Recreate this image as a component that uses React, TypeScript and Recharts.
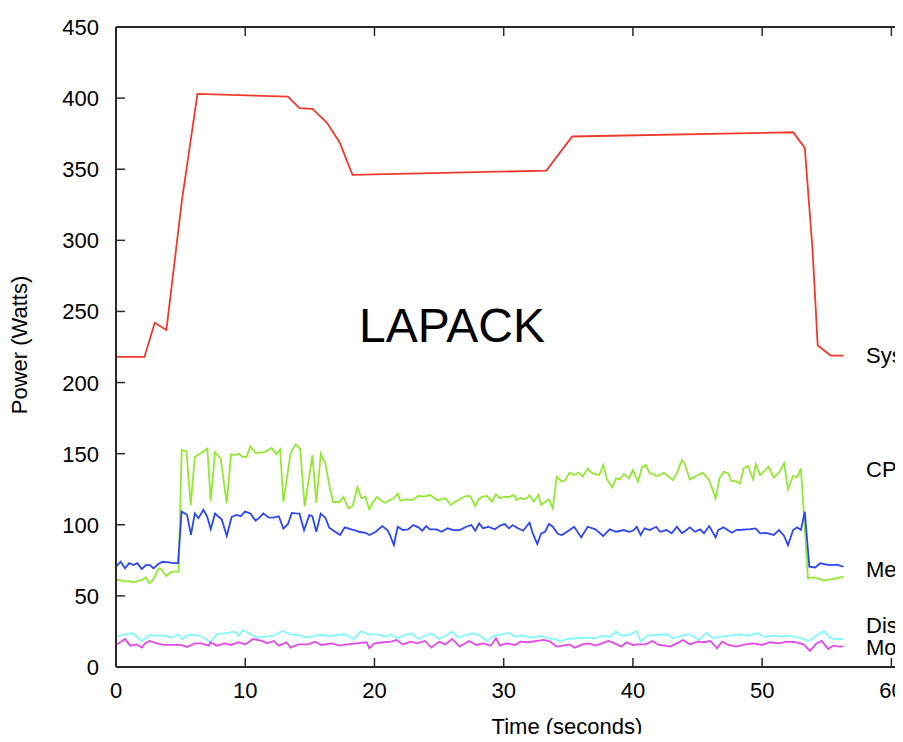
import React from "react";
import { LineChart, Line, XAxis, YAxis, Customized } from "recharts";

const TIME_TICKS = [0, 10, 20, 30, 40, 50, 60];
const POWER_TICKS = [0, 50, 100, 150, 200, 250, 300, 350, 400, 450];

const SERIES_NAMES = ["System", "CPU", "Memory", "Disk", "Motherboard"];
const CHART_TITLE = "LAPACK";
const X_TITLE = "Time (seconds)";
const Y_TITLE = "Power (Watts)";

// [time (s), power (W)]
const SYSTEM: [number, number][] = [
  [0, 218], [2.2, 218], [3.0, 242], [3.9, 237], [5.1, 328], [6.3, 403], [13.3, 401],
  [14.2, 393], [15.2, 392.5], [16.3, 383], [17.3, 369], [18.3, 346], [33.3, 349],
  [35.3, 373], [52.4, 376], [53.3, 365], [53.9, 293], [54.3, 226], [55.3, 219], [56.3, 219],
];

const CPU: [number, number][] = [
  [0, 61.2], [0.35, 61], [0.7, 60], [1.0, 60.5], [1.35, 59.5], [1.7, 60.5], [2.0, 61], [2.3, 63],
  [2.58, 58.8], [2.9, 61.7], [3.3, 69.4], [3.5, 68.7], [3.9, 64], [4.3, 67], [4.7, 67], [4.85, 67],
  [5.08, 152.6], [5.45, 151.6], [5.78, 113.7], [6.1, 147.7], [6.6, 150.5], [7.07, 153.5],
  [7.33, 116.7], [7.66, 151], [8.1, 146.5], [8.57, 115], [8.9, 149.5], [9.2, 149], [9.5, 150],
  [9.8, 147.7], [10.1, 147.7], [10.4, 155], [10.8, 150.5], [11.1, 150.5], [11.4, 151], [11.7, 152],
  [12.05, 154], [12.4, 149.5], [12.7, 152.8], [12.95, 116], [13.5, 150], [13.9, 156.5],
  [14.25, 153.5], [14.6, 113], [15.2, 149], [15.5, 115.3], [15.85, 150], [16.2, 143], [16.5, 128],
  [16.8, 116], [17.08, 116.2], [17.3, 116], [17.6, 119.7], [17.98, 111.5], [18.32, 113.2],
  [18.68, 126.3], [19.0, 118.6], [19.3, 119.7], [19.6, 110.8], [19.9, 116], [20.2, 119.7],
  [20.5, 117], [20.8, 115.5], [21.1, 117], [21.5, 118.6], [21.8, 122], [22.0, 117], [22.5, 117.9],
  [22.9, 117.4], [23.2, 119], [23.4, 120.4], [23.7, 120], [24.0, 120.2], [24.3, 120.9], [24.6, 119],
  [24.9, 117], [25.2, 118], [25.5, 118.6], [25.9, 113.9], [26.2, 116], [26.5, 117.4], [26.8, 119],
  [27.1, 120.2], [27.4, 120.2], [27.8, 113.2], [28.0, 117], [28.3, 119.7], [28.7, 120.2],
  [29.1, 116.2], [29.4, 121.4], [29.7, 118.6], [30.1, 119.7], [30.4, 119.5], [30.8, 120.9],
  [31.0, 117.4], [31.3, 119], [31.55, 118], [31.8, 118.6], [32.0, 120.9], [32.3, 116.2],
  [32.7, 120.9], [32.9, 113.9], [33.2, 116], [33.5, 117.9], [33.8, 111.5], [34.1, 133.8],
  [34.5, 130.3], [34.75, 131.4], [35.1, 136.6], [35.45, 135], [35.8, 136.6], [36.1, 133.8],
  [36.5, 139.6], [36.75, 137], [37.0, 135.7], [37.4, 135], [37.7, 142], [38.0, 131.9],
  [38.4, 126.3], [38.7, 132.6], [39.0, 131.9], [39.3, 135.7], [39.7, 132.6], [40.0, 138.5],
  [40.4, 130.3], [40.7, 140.4], [41.0, 142], [41.3, 136.1], [41.55, 136], [41.8, 134.3],
  [42.1, 135], [42.4, 136.6], [42.75, 134], [43.1, 131.4], [43.4, 136.1], [43.8, 145.5],
  [44.0, 143.2], [44.4, 131.9], [44.9, 134.3], [45.4, 136.6], [45.9, 131.4], [46.4, 118.6],
  [46.7, 132.6], [47.05, 137.3], [47.4, 136], [47.6, 131], [48.0, 130.5], [48.3, 129.1],
  [48.55, 139.6], [48.9, 141.3], [49.3, 131.9], [49.5, 142.7], [49.85, 135], [50.2, 138],
  [50.5, 140.8], [50.9, 133.3], [51.3, 136.6], [51.7, 143.2], [52.0, 124.9], [52.4, 134.3],
  [52.7, 133.3], [53.0, 139.6], [53.55, 62.3], [54.0, 63], [54.4, 62], [54.8, 60.7], [55.3, 61.6],
  [55.8, 62.5], [56.3, 63.5],
];

const MEMORY: [number, number][] = [
  [0, 70.5], [0.36, 74], [0.7, 69.4], [1.03, 73], [1.35, 71.7], [1.65, 73], [2.0, 68.8], [2.3, 71.7],
  [2.63, 71.7], [2.9, 69.4], [3.27, 72.4], [3.6, 74], [3.9, 73.8], [4.2, 73.4], [4.5, 73], [4.8, 73],
  [5.08, 109.3], [5.5, 107], [5.8, 92.9], [6.1, 108], [6.38, 104.6], [6.76, 110.5], [7.05, 106],
  [7.33, 96.9], [7.66, 108], [7.9, 106], [8.18, 103.9], [8.57, 92.1], [8.95, 105.5], [9.34, 106.9],
  [9.65, 106], [9.98, 109.3], [10.4, 108], [10.8, 102.9], [11.1, 105], [11.4, 108], [11.8, 105.2],
  [12.2, 105], [12.6, 106], [12.95, 97.3], [13.3, 100.4], [13.6, 108.3], [13.9, 108], [14.2, 107.8],
  [14.55, 96.1], [14.96, 106.7], [15.2, 106], [15.5, 95], [15.84, 107.8], [16.2, 105], [16.5, 98],
  [16.95, 95.1], [17.34, 92.8], [17.7, 98.2], [18.2, 96.8], [18.5, 96], [18.8, 95.1], [19.3, 94.4],
  [19.6, 92.8], [20.1, 95.1], [20.6, 99.1], [21.0, 96.3], [21.2, 92.8], [21.5, 85.7], [21.8, 98.6],
  [22.2, 96.3], [22.6, 96.8], [23.0, 99.8], [23.4, 98.2], [23.7, 95.8], [24.0, 99.1], [24.3, 96.8],
  [24.8, 96.8], [25.2, 95.1], [25.65, 97.5], [26.1, 96.3], [26.6, 96.3], [27.1, 98.6], [27.5, 99.8],
  [27.8, 95.8], [28.1, 101], [28.4, 97.5], [28.8, 98.6], [29.3, 96.8], [29.8, 99.8], [30.1, 100.5],
  [30.4, 97.5], [30.7, 99.8], [31.1, 97.5], [31.5, 95.8], [32.0, 101.5], [32.25, 94], [32.6, 86.4],
  [32.9, 94], [33.2, 95.1], [33.5, 100.5], [33.8, 98.6], [34.2, 93.5], [34.5, 92.8], [34.9, 95.1],
  [35.1, 96.3], [35.45, 98.6], [36.0, 91.1], [36.5, 98.6], [37.1, 96.8], [37.7, 92.1], [38.2, 96.8],
  [38.7, 95.1], [39.3, 96.3], [39.7, 95.1], [40.0, 95.8], [40.3, 98.6], [40.6, 92.8], [40.9, 97.5],
  [41.3, 96.3], [41.8, 98.6], [42.1, 95.1], [42.6, 96.3], [43.0, 94], [43.4, 98.6], [43.8, 94],
  [44.1, 96], [44.4, 98.2], [44.8, 95.1], [45.2, 96.8], [45.5, 94], [45.9, 99.1], [46.4, 91.1],
  [46.6, 96.3], [47.0, 98.2], [47.3, 96.5], [47.65, 94.4], [48.0, 96.3], [48.4, 96.5], [48.8, 96.8],
  [49.1, 97], [49.5, 97.5], [49.85, 94], [50.2, 94.2], [50.5, 94], [50.9, 92.8], [51.3, 96.3],
  [51.7, 92.1], [52.0, 85.7], [52.4, 96.3], [52.7, 98.2], [53.0, 96.3], [53.3, 109.2], [53.65, 70.5],
  [54.1, 70], [54.5, 72.9], [55.0, 72], [55.3, 71.7], [55.8, 72], [56.3, 70.5],
];

const DISK: [number, number][] = [
  [0, 21.3], [0.7, 23], [1.3, 23.7], [2.0, 18.3], [2.6, 22.5], [3.15, 22], [3.8, 22], [4.3, 20.6],
  [4.8, 23], [5.1, 19.7], [5.6, 22.5], [6.2, 22.5], [6.8, 20.6], [7.3, 17.4], [7.8, 23], [8.4, 23.7],
  [9.2, 24.8], [9.5, 22], [9.8, 26], [10.4, 23], [10.9, 20.6], [11.5, 21.3], [12.2, 22], [12.9, 25.3],
  [13.5, 23], [14.1, 22.5], [14.8, 20.6], [15.4, 22], [16.0, 22.5], [16.5, 21.5], [17.1, 22.5],
  [17.7, 23], [18.4, 19.7], [19.0, 25.3], [19.5, 23], [20.2, 23], [20.9, 21.3], [21.3, 23],
  [21.7, 20.2], [22.2, 22], [22.9, 23.7], [23.4, 19.7], [23.9, 22], [24.4, 23.7], [25.0, 19.7],
  [25.5, 22], [26.0, 24.8], [26.5, 20.6], [27.1, 22.5], [27.7, 23.7], [28.2, 22], [28.7, 18.3],
  [29.3, 22], [29.9, 23], [30.4, 24.1], [30.9, 21.3], [31.5, 22], [32.2, 20.6], [32.8, 22],
  [33.4, 20.2], [33.98, 19.7], [34.4, 17.8], [34.9, 19.7], [35.65, 20.2], [36.3, 20.6], [37.1, 20.2],
  [37.7, 22], [38.2, 21.3], [38.7, 24.8], [39.1, 22], [39.8, 23], [40.3, 25.3], [40.6, 17.8],
  [41.1, 22], [41.8, 22.5], [42.6, 23], [43.1, 20.2], [43.8, 22], [44.4, 23], [45.1, 19],
  [45.7, 24.1], [46.2, 20.2], [46.8, 21.3], [47.5, 22], [48.3, 23], [48.9, 22], [49.6, 23.7],
  [50.2, 21.3], [50.9, 22], [51.5, 21.3], [52.1, 22], [52.8, 20.6], [53.2, 19.7], [53.6, 18.3],
  [54.2, 22], [54.8, 25.3], [55.3, 20.2], [55.8, 19.7], [56.3, 19.5],
];

const MOTHERBOARD: [number, number][] = [
  [0, 15.5], [0.7, 19.7], [1.1, 15], [1.6, 15.9], [2.0, 13.6], [2.25, 16.6], [2.6, 18.3], [3.15, 16.6],
  [3.7, 15.5], [4.3, 15.5], [5.0, 15.5], [5.5, 14.1], [6.1, 16.6], [6.6, 16.6], [7.2, 15], [7.3, 17.4],
  [7.8, 15], [8.4, 16.6], [8.9, 15.5], [9.5, 17.4], [10.0, 15.9], [10.6, 19.7], [11.3, 18.3],
  [11.7, 16.6], [12.2, 18.3], [12.6, 15], [13.2, 17.4], [13.5, 13.6], [14.1, 15.9], [14.9, 15.9],
  [15.4, 17.8], [15.9, 15.5], [16.7, 16.6], [17.3, 15], [17.9, 15.9], [18.6, 16.6], [19.4, 17.4],
  [19.6, 13.2], [20.0, 16.6], [20.7, 17.4], [21.3, 17.8], [21.7, 19], [22.2, 15.9], [22.8, 17.8],
  [23.3, 16.6], [23.9, 18.3], [24.4, 13.6], [25.0, 17.8], [25.5, 15.9], [26.0, 19.7], [26.6, 14.3],
  [27.3, 18.3], [27.9, 15.5], [28.4, 16.6], [29.0, 15], [29.4, 20.2], [29.7, 15], [30.2, 16.6],
  [30.9, 15.5], [31.3, 17.8], [31.9, 17.4], [32.6, 18.3], [33.1, 19], [33.6, 17.8], [34.1, 14.3],
  [34.6, 15], [35.1, 15.9], [35.5, 13.6], [36.1, 15.9], [36.6, 16.6], [37.1, 15], [37.6, 16.6],
  [38.1, 18.3], [38.6, 16.6], [39.1, 14.3], [39.5, 17.4], [40.0, 15.5], [40.4, 15.9], [41.0, 15.9],
  [41.5, 18.3], [42.0, 15.5], [42.5, 15], [42.9, 14.3], [43.4, 16.6], [43.9, 19], [44.4, 15.9],
  [45.0, 17.8], [45.5, 17.4], [46.0, 18.3], [46.5, 13.2], [46.9, 17.8], [47.4, 15.5], [48.0, 14.3],
  [48.7, 15.9], [49.3, 16.6], [50.0, 15.5], [50.6, 17.4], [51.3, 16.6], [51.9, 17.8], [52.6, 17.4],
  [53.2, 15.9], [53.7, 11.3], [54.2, 16.6], [54.6, 18.3], [55.1, 12.7], [55.5, 15], [56.0, 14.3],
  [56.3, 14.5],
];

const COLORS = {
  system: "#ee3b2b",
  cpu: "#92e834",
  memory: "#2c46f2",
  disk: "#84f6ff",
  motherboard: "#e24ae8",
};

const FONT = "'Liberation Sans', Arial, Helvetica, sans-serif";
const AXIS_COLOR = "#2a2a2a";
const LINE_WIDTH = 1.8;

const toRows = (pairs: [number, number][]) => pairs.map(([t, w]) => ({ t, w }));

const BottomTick = (props: any) => {
  const { x, y, payload } = props;
  return (
    <g>
      <line x1={x} y1={y} x2={x} y2={y - 9} stroke={AXIS_COLOR} strokeWidth={1.5} />
      <text x={x} y={y + 31} textAnchor="middle" fontSize={22} fontFamily={FONT} fill="#000">
        {payload.value}
      </text>
    </g>
  );
};

const TopTick = (props: any) => {
  const { x, y } = props;
  return <line x1={x} y1={y} x2={x} y2={y + 9} stroke={AXIS_COLOR} strokeWidth={1.5} />;
};

const LeftTick = (props: any) => {
  const { x, y, payload } = props;
  return (
    <g>
      <line x1={x} y1={y} x2={x + 9} y2={y} stroke={AXIS_COLOR} strokeWidth={1.5} />
      <text x={x - 17} y={y + 8} textAnchor="end" fontSize={22} fontFamily={FONT} fill="#000">
        {payload.value}
      </text>
    </g>
  );
};

const Annotations = () => (
  <g fontFamily={FONT} fill="#000">
    <text x={444} y={334} textAnchor="middle" fontSize={48}>
      {CHART_TITLE}
    </text>
    <text x={559} y={726} textAnchor="middle" fontSize={22}>
      {X_TITLE}
    </text>
    <text x={19} y={337} textAnchor="middle" fontSize={22} transform="rotate(-90 19 337)">
      {Y_TITLE}
    </text>
    <text x={858} y={355} fontSize={22}>{SERIES_NAMES[0]}</text>
    <text x={858} y={469} fontSize={22}>{SERIES_NAMES[1]}</text>
    <text x={858} y={569} fontSize={22}>{SERIES_NAMES[2]}</text>
    <text x={858} y={625} fontSize={22}>{SERIES_NAMES[3]}</text>
    <text x={858} y={647} fontSize={22}>{SERIES_NAMES[4]}</text>
  </g>
);

export default function App() {
  return (
    <div style={{ width: 895, height: 734, overflow: "hidden", marginBottom: -8, background: "#fff" }}>
      <LineChart width={948} height={734} margin={{ top: 0, right: 0, bottom: 0, left: 0 }}>
        <XAxis
          xAxisId="bottom"
          dataKey="t"
          type="number"
          domain={[0, 65]}
          ticks={TIME_TICKS}
          interval={0}
          allowDataOverflow
          orientation="bottom"
          height={75}
          tickSize={0}
          tickMargin={0}
          tickLine={false}
          axisLine={{ stroke: AXIS_COLOR, strokeWidth: 2 }}
          tick={<BottomTick />}
        />
        <XAxis
          xAxisId="top"
          dataKey="t"
          type="number"
          domain={[0, 65]}
          ticks={TIME_TICKS}
          interval={0}
          allowDataOverflow
          orientation="top"
          height={19}
          tickSize={0}
          tickMargin={0}
          tickLine={false}
          axisLine={{ stroke: AXIS_COLOR, strokeWidth: 2 }}
          tick={<TopTick />}
        />
        <YAxis
          type="number"
          domain={[0, 450]}
          ticks={POWER_TICKS}
          interval={0}
          allowDataOverflow
          width={108}
          tickSize={0}
          tickMargin={0}
          tickLine={false}
          axisLine={{ stroke: AXIS_COLOR, strokeWidth: 2 }}
          tick={<LeftTick />}
        />
        <Line xAxisId="bottom" data={toRows(SYSTEM)} dataKey="w" name={SERIES_NAMES[0]} type="linear" stroke={COLORS.system} strokeWidth={LINE_WIDTH} dot={false} isAnimationActive={false} />
        <Line xAxisId="bottom" data={toRows(CPU)} dataKey="w" name={SERIES_NAMES[1]} type="linear" stroke={COLORS.cpu} strokeWidth={LINE_WIDTH} dot={false} isAnimationActive={false} />
        <Line xAxisId="bottom" data={toRows(MEMORY)} dataKey="w" name={SERIES_NAMES[2]} type="linear" stroke={COLORS.memory} strokeWidth={LINE_WIDTH} dot={false} isAnimationActive={false} />
        <Line xAxisId="bottom" data={toRows(DISK)} dataKey="w" name={SERIES_NAMES[3]} type="linear" stroke={COLORS.disk} strokeWidth={LINE_WIDTH} dot={false} isAnimationActive={false} />
        <Line xAxisId="bottom" data={toRows(MOTHERBOARD)} dataKey="w" name={SERIES_NAMES[4]} type="linear" stroke={COLORS.motherboard} strokeWidth={LINE_WIDTH} dot={false} isAnimationActive={false} />
        <Customized component={<Annotations />} />
      </LineChart>
    </div>
  );
}
